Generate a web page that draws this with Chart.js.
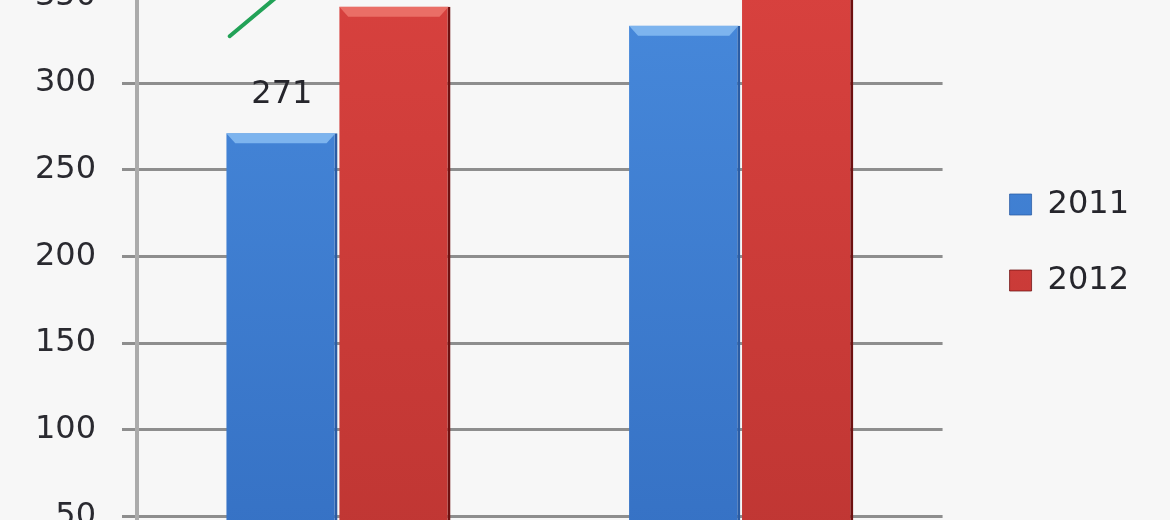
<!DOCTYPE html>
<html>
<head>
<meta charset="utf-8">
<script src="https://cdn.jsdelivr.net/npm/chart.js@4.4.1/dist/chart.umd.min.js"></script>
<style>
  html, body { margin: 0; padding: 0; background: #f7f7f7; }
  #frame { position: relative; width: 1170px; height: 520px; overflow: hidden; background: #f7f7f7; }
  /* the picture is a close crop of a bigger chart, so the canvas is taller than the frame */
  #holder { position: absolute; left: 0; top: -148px; width: 1170px; height: 781px; }
</style>
</head>
<body>
<div id="frame"><div id="holder"><canvas id="chart"></canvas></div></div>
<script>
const categories = ['Grupo 1', 'Grupo 2'];
const seriesLabels = ['2011', '2012'];
const values2011 = [271, 333];
const values2012 = [344, 385];
const tickValues = [50, 100, 150, 200, 250, 300, 350];
// green stroke in the top-left corner (x in category units, y in axis units)
const trendX = [-0.27, -0.09];
const trendY = [327, 362];

Chart.defaults.font.family = '"DejaVu Sans", Verdana, sans-serif';

function verticalShade(top, bottom) {
  return function (context) {
    const area = context.chart.chartArea;
    if (!area) return top;
    const g = context.chart.ctx.createLinearGradient(0, area.top, 0, area.bottom);
    g.addColorStop(0, top);
    g.addColorStop(1, bottom);
    return g;
  };
}

const highlightColors = ['#7db4ee', '#ea6e66'];

// light bevel on top of each bar + the value label above it
const barDecor = {
  id: 'barDecor',
  afterDatasetsDraw(chart) {
    const ctx = chart.ctx;
    chart.data.datasets.forEach((ds, i) => {
      const meta = chart.getDatasetMeta(i);
      meta.data.forEach((bar, j) => {
        const { x, y, width } = bar.getProps(['x', 'y', 'width'], true);
        const l = x - width / 2;
        const r = x + width / 2;
        ctx.save();
        ctx.fillStyle = highlightColors[i];
        ctx.beginPath();
        ctx.moveTo(l, y);
        ctx.lineTo(r - 2, y);
        ctx.lineTo(r - 11, y + 10);
        ctx.lineTo(l + 9, y + 10);
        ctx.closePath();
        ctx.fill();

        ctx.fillStyle = '#26262c';
        ctx.font = '32px "DejaVu Sans"';
        ctx.textAlign = 'center';
        ctx.textBaseline = 'alphabetic';
        ctx.fillText(String(ds.data[j]), x, y - 30);
        ctx.restore();
      });
    });
  }
};

// the green stroke, placed through the chart's own scales
const trendStroke = {
  id: 'trendStroke',
  afterDatasetsDraw(chart) {
    const ctx = chart.ctx;
    const xs = chart.scales.x;
    const ys = chart.scales.y;
    ctx.save();
    ctx.strokeStyle = '#22a257';
    ctx.lineWidth = 4;
    ctx.lineCap = 'round';
    ctx.beginPath();
    trendX.forEach((v, i) => {
      const px = xs.getPixelForValue(v);
      const py = ys.getPixelForValue(trendY[i]);
      if (i === 0) ctx.moveTo(px, py); else ctx.lineTo(px, py);
    });
    ctx.stroke();
    ctx.restore();
  }
};

const ctx = document.getElementById('chart').getContext('2d');

new Chart(ctx, {
  type: 'bar',
  data: {
    labels: categories,
    datasets: [
      {
        label: seriesLabels[0],
        data: values2011,
        backgroundColor: verticalShade('#4a8ddf', '#346fc2'),
        borderColor: '#2a5ca4',
        borderWidth: { top: 0, left: 0, bottom: 0, right: 3 },
        categoryPercentage: 0.561,
        barPercentage: 0.985
      },
      {
        label: seriesLabels[1],
        data: values2012,
        backgroundColor: verticalShade('#dc4340', '#bd3532'),
        borderColor: '#6e1010',
        borderWidth: { top: 0, left: 0, bottom: 0, right: 3 },
        categoryPercentage: 0.561,
        barPercentage: 0.985
      }
    ]
  },
  options: {
    responsive: true,
    maintainAspectRatio: false,
    animation: false,
    layout: { padding: { left: 0, right: 31, top: 30, bottom: 30 } },
    scales: {
      x: { display: false },
      y: {
        min: 0,
        max: 416,
        afterBuildTicks: axis => { axis.ticks = tickValues.map(v => ({ value: v })); },
        afterFit: axis => {
          axis.width = 137;
          axis.paddingTop = 0;
          axis.paddingBottom = 0;
        },
        grid: { color: '#8e8e8e', lineWidth: 3, tickLength: 15 },
        border: { color: '#ababab', width: 4 },
        ticks: { padding: 26, color: '#2a2a30', font: { size: 32 } }
      },
      y2: {
        position: 'right',
        grid: { display: false },
        border: { display: false },
        ticks: { display: false },
        afterFit: axis => { axis.width = 23; }
      }
    },
    plugins: {
      tooltip: { enabled: false },
      legend: {
        position: 'right',
        labels: {
          color: '#26262c',
          font: { size: 32 },
          boxWidth: 22,
          boxHeight: 21,
          padding: 44
        }
      }
    }
  },
  plugins: [barDecor, trendStroke]
});
</script>
</body>
</html>
